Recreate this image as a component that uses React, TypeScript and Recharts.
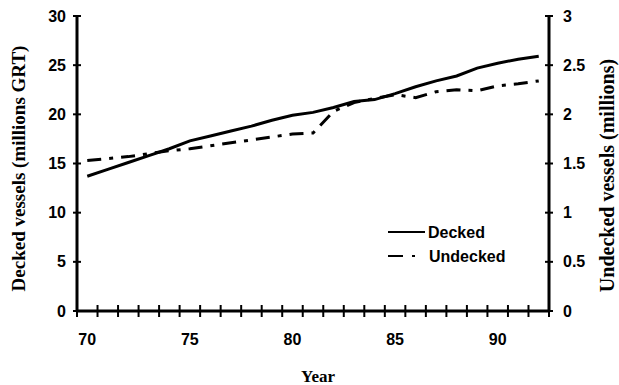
import React from 'react';
import { LineChart, Line, XAxis, YAxis, Legend } from 'recharts';

const years = [70, 71, 72, 73, 74, 75, 76, 77, 78, 79, 80, 81, 82, 83, 84, 85, 86, 87, 88, 89, 90, 91, 92];
const decked = [13.7, 14.4, 15.1, 15.8, 16.5, 17.3, 17.8, 18.3, 18.8, 19.4, 19.9, 20.2, 20.7, 21.3, 21.5, 22.1, 22.8, 23.4, 23.9, 24.7, 25.2, 25.6, 25.9];
const undecked = [1.53, 1.55, 1.57, 1.6, 1.63, 1.65, 1.68, 1.71, 1.74, 1.77, 1.8, 1.81, 2.03, 2.12, 2.16, 2.2, 2.17, 2.23, 2.25, 2.24, 2.29, 2.31, 2.34];
const xTicks = [70, 71, 72, 73, 74, 75, 76, 77, 78, 79, 80, 81, 82, 83, 84, 85, 86, 87, 88, 89, 90, 91, 92, 93];
const xLabelYears = [70, 75, 80, 85, 90];
const leftTicks = [0, 5, 10, 15, 20, 25, 30];
const rightTicks = [0, 0.5, 1, 1.5, 2, 2.5, 3];

const data = years.map((y, i) => ({ x: y + 0.5, decked: decked[i], undecked: undecked[i] }));

const W = 619;
const H = 385;
const LEFT_W = 77;
const RIGHT_W = 70;
const X_H = 74;
const TOP = 16;
const HALF_CAT = (W - LEFT_W - RIGHT_W) / (xTicks.length - 1) / 2;

const SANS = '"Liberation Sans", Arial, sans-serif';
const SERIF = '"Liberation Serif", "Times New Roman", serif';

const XTick = (props: any) => {
  const { x, y, payload } = props;
  const v = payload.value;
  return (
    <g>
      <line x1={x} x2={x} y1={y - 6} y2={y + 6} stroke="#000" strokeWidth={2} />
      {xLabelYears.includes(v) && (
        <text x={x + HALF_CAT} y={y + 34} textAnchor="middle" fontFamily={SANS} fontWeight="bold" fontSize={16} fill="#000">
          {v}
        </text>
      )}
    </g>
  );
};

const LeftTick = (props: any) => {
  const { x, y, payload } = props;
  return (
    <g>
      <line x1={x - 4} x2={x + 4} y1={y} y2={y} stroke="#000" strokeWidth={2} />
      <text x={x - 11} y={y + 5.5} textAnchor="end" fontFamily={SANS} fontWeight="bold" fontSize={16} fill="#000">
        {payload.value}
      </text>
    </g>
  );
};

const RightTick = (props: any) => {
  const { x, y, payload } = props;
  return (
    <g>
      <line x1={x - 4} x2={x + 4} y1={y} y2={y} stroke="#000" strokeWidth={2} />
      <text x={x + 14} y={y + 5.5} textAnchor="start" fontFamily={SANS} fontWeight="bold" fontSize={16} fill="#000">
        {payload.value}
      </text>
    </g>
  );
};

const LeftLabel = (props: any) => {
  const vb = props.viewBox || { x: 0, y: TOP, width: LEFT_W, height: 295 };
  const cx = vb.x + 25;
  const cy = vb.y + vb.height / 2 + 5;
  return (
    <text x={cx} y={cy} transform={`rotate(-90 ${cx} ${cy})`} textAnchor="middle" fontFamily={SERIF} fontWeight="bold" fontSize={19} fill="#000">
      Decked vessels (millions GRT)
    </text>
  );
};

const RightLabel = (props: any) => {
  const vb = props.viewBox || { x: W - RIGHT_W, y: TOP, width: RIGHT_W, height: 295 };
  const cx = vb.x + 65;
  const cy = vb.y + vb.height / 2 + 12;
  return (
    <text x={cx} y={cy} transform={`rotate(-90 ${cx} ${cy})`} textAnchor="middle" fontFamily={SERIF} fontWeight="bold" fontSize={20} fill="#000">
      Undecked vessels (millions)
    </text>
  );
};

const XLabel = (props: any) => {
  const vb = props.viewBox || { x: LEFT_W, y: H - X_H, width: W - LEFT_W - RIGHT_W, height: X_H };
  return (
    <text x={vb.x + vb.width / 2 + 5} y={vb.y + 71} textAnchor="middle" fontFamily={SERIF} fontWeight="bold" fontSize={17} fill="#000">
      Year
    </text>
  );
};

const LegendContent = () => (
  <svg width={140} height={55} style={{ display: 'block' }}>
    <line x1={8} x2={45} y1={17} y2={17} stroke="#000" strokeWidth={2} />
    <text x={48} y={22.5} fontFamily={SANS} fontWeight="bold" fontSize={16} fill="#000">Decked</text>
    <line x1={8} x2={23} y1={41} y2={41} stroke="#000" strokeWidth={2} />
    <line x1={32} x2={35} y1={41} y2={41} stroke="#000" strokeWidth={2} />
    <text x={49} y={46.5} fontFamily={SANS} fontWeight="bold" fontSize={16} fill="#000">Undecked</text>
  </svg>
);

export default function App() {
  return (
    <div style={{ position: 'absolute', left: 0, top: 0, width: W, height: H, background: '#fff' }}>
      <LineChart width={W} height={H} data={data} margin={{ top: TOP, right: 0, bottom: 0, left: 0 }}>
        <XAxis
          type="number"
          dataKey="x"
          domain={[70, 93]}
          ticks={xTicks}
          interval={0}
          height={X_H}
          tickSize={0}
          tickMargin={0}
          tickLine={false}
          axisLine={{ stroke: '#000', strokeWidth: 3 }}
          tick={<XTick />}
          label={<XLabel />}
        />
        <YAxis
          yAxisId="left"
          orientation="left"
          domain={[0, 30]}
          ticks={leftTicks}
          interval={0}
          width={LEFT_W}
          tickSize={0}
          tickMargin={0}
          tickLine={false}
          axisLine={{ stroke: '#000', strokeWidth: 3 }}
          tick={<LeftTick />}
          label={<LeftLabel />}
        />
        <YAxis
          yAxisId="right"
          orientation="right"
          domain={[0, 3]}
          ticks={rightTicks}
          interval={0}
          width={RIGHT_W}
          tickSize={0}
          tickMargin={0}
          tickLine={false}
          axisLine={{ stroke: '#000', strokeWidth: 3 }}
          tick={<RightTick />}
          label={<RightLabel />}
        />
        <Legend
          layout="vertical"
          align="center"
          verticalAlign="middle"
          content={<LegendContent />}
          wrapperStyle={{ position: 'absolute', left: 380, top: 215, width: 140, height: 55 }}
        />
        <Line
          yAxisId="left"
          type="linear"
          dataKey="decked"
          name="Decked"
          stroke="#000"
          strokeWidth={3}
          dot={false}
          isAnimationActive={false}
        />
        <Line
          yAxisId="right"
          type="linear"
          dataKey="undecked"
          name="Undecked"
          stroke="#000"
          strokeWidth={3}
          strokeDasharray="14 8 4 8"
          dot={false}
          isAnimationActive={false}
        />
      </LineChart>
    </div>
  );
}
